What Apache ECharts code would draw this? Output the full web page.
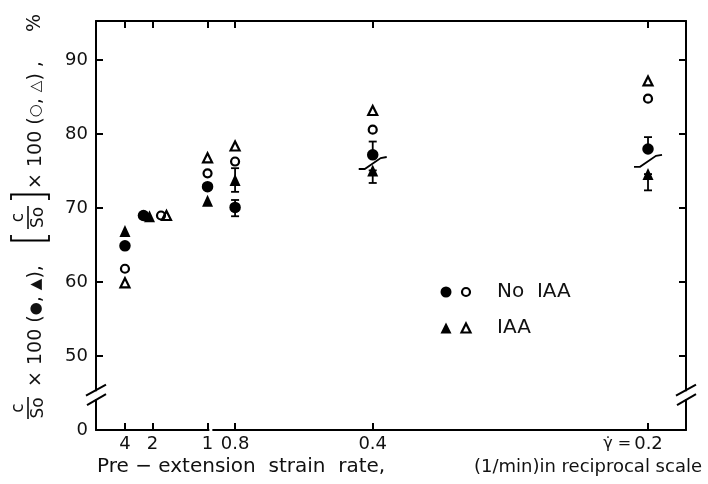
<!DOCTYPE html>
<html><head><meta charset="utf-8">
<script src="https://cdn.jsdelivr.net/npm/echarts@6/dist/echarts.min.js"></script>
<style>html,body{margin:0;padding:0;background:#fff}#c{width:708px;height:484px}</style>
</head><body><div id="c"></div>
<script>
// ---- data ----
const rates = [4, 2, 1, 0.8, 0.4, 0.2];
const rateLabels = ['4', '2', '1', '0.8', '0.4', '0.2'];
const yTicks = [50, 60, 70, 80, 90];
const noIaaFilled = [64.9, 69.0, 72.9, 70.1, 77.2, 78.0];
const iaaFilled   = [66.9, 68.9, 71.0, 73.8, 75.1, 74.6];
const noIaaOpen   = [61.8, 69.0, 74.7, 76.3, 80.6, 84.8];
const iaaOpen     = [59.9, 69.0, 76.8, 78.4, 83.2, 87.2];
const errRates    = [0.8, 0.4, 0.2];
const noIaaErrLow  = [68.9, 77.2, 78.0];
const noIaaErrHigh = [71.1, 79.0, 79.6];
const iaaErrLow    = [72.2, 73.4, 72.4];
const iaaErrHigh   = [75.4, 75.1, 74.6];
const breakRates  = [0.4, 0.2];
const breakValues = [76.1, 76.4];

// ---- layout / style ----
const FONT = 'DejaVu Sans';
const X_MIN = -0.013, X_MAX = 5.345, Y_MIN = 40, Y_MAX = 95.3;
const dodge = { fc: -9, ft: -3, oc: 8.5, ot: 14 }; // pixel dodge at the crowded rate
const recips = rates.map(r => 1 / r);

function pts(vals, dx) {
  return rates.map((r, i) => {
    const d = { value: [1 / r, vals[i]] };
    if (r === 2) d.symbolOffset = [dx, 0];
    return d;
  });
}
function labelFor(v) {
  let best = -1, bd = 1e9;
  recips.forEach((x, i) => { const d = Math.abs(x - v); if (d < bd) { bd = d; best = i; } });
  if (bd > 1e-6) return '';
  if (rates[best] === 0.2) return '{g|γ̇ =}' + rateLabels[best] + '{e|}';
  return rateLabels[best];
}

const chart = echarts.init(document.getElementById('c'), null, { renderer: 'canvas' });
const axisLineStyle = { color: '#000', width: 2 };
const tickStyle = { color: '#000', width: 2 };

const option = {
  animation: false,
  backgroundColor: '#fff',
  textStyle: { fontFamily: FONT },
  grid: { left: 96, right: 22, top: 21, bottom: 54 },
  xAxis: [
    {
      type: 'value', min: X_MIN, max: X_MAX, position: 'bottom',
      axisLine: { onZero: false, lineStyle: axisLineStyle },
      axisTick: { inside: true, length: 7, customValues: recips, lineStyle: tickStyle },
      axisLabel: {
        customValues: recips, formatter: labelFor, fontSize: 18, color: '#111', margin: 5,
        rich: { g: { fontSize: 16, color: '#111', padding: [0, 3, 0, 0] }, e: { width: 30 } }
      },
      splitLine: { show: false }
    },
    {
      type: 'value', min: X_MIN, max: X_MAX, position: 'top',
      axisLine: { onZero: false, lineStyle: axisLineStyle },
      axisTick: { inside: true, length: 7, customValues: recips, lineStyle: tickStyle },
      axisLabel: { show: false }, splitLine: { show: false }
    }
  ],
  yAxis: [
    {
      type: 'value', min: Y_MIN, max: Y_MAX, position: 'left',
      axisLine: { onZero: false, lineStyle: axisLineStyle },
      axisTick: { inside: true, length: 7, customValues: yTicks, lineStyle: tickStyle },
      axisLabel: {
        customValues: [Y_MIN].concat(yTicks),
        formatter: v => (v === Y_MIN ? '0' : String(v)), fontSize: 18, color: '#111', margin: 8
      },
      splitLine: { show: false }
    },
    {
      type: 'value', min: Y_MIN, max: Y_MAX, position: 'right',
      axisLine: { onZero: false, lineStyle: axisLineStyle },
      axisTick: { inside: true, length: 7, customValues: yTicks, lineStyle: tickStyle },
      axisLabel: { show: false }, splitLine: { show: false }
    }
  ],
  series: [
    {
      name: 'No IAA error', type: 'custom', z: 1,
      data: errRates.map((r, i) => [1 / r, noIaaErrLow[i], noIaaErrHigh[i]]),
      encode: { x: 0, y: [1, 2] }, renderItem: errItem
    },
    {
      name: 'IAA error', type: 'custom', z: 1,
      data: errRates.map((r, i) => [1 / r, iaaErrLow[i], iaaErrHigh[i]]),
      encode: { x: 0, y: [1, 2] }, renderItem: errItem
    },
    {
      name: 'No IAA (filled)', type: 'scatter', symbol: 'circle', symbolSize: 11.5, z: 3,
      itemStyle: { color: '#000', opacity: 1 }, data: pts(noIaaFilled, dodge.fc)
    },
    {
      name: 'IAA (filled)', type: 'scatter', symbol: 'triangle', symbolSize: [11, 12], z: 3,
      itemStyle: { color: '#000', opacity: 1 }, data: pts(iaaFilled, dodge.ft)
    },
    {
      name: 'No IAA (open)', type: 'scatter', symbol: 'circle', symbolSize: 8, z: 3,
      itemStyle: { color: 'rgba(255,255,255,0)', borderColor: '#000', borderWidth: 2.2, opacity: 1 },
      data: pts(noIaaOpen, dodge.oc)
    },
    {
      name: 'IAA (open)', type: 'scatter', symbol: 'triangle', symbolSize: [9, 9], z: 3,
      itemStyle: { color: 'rgba(255,255,255,0)', borderColor: '#000', borderWidth: 2.2, opacity: 1 },
      data: pts(iaaOpen, dodge.ot)
    },
    {
      name: 'break marks', type: 'custom', z: 4,
      data: breakRates.map((r, i) => [1 / r, breakValues[i]]),
      encode: { x: 0, y: 1 },
      renderItem: function (params, api) {
        const p = api.coord([api.value(0), api.value(1)]);
        return {
          type: 'polyline',
          shape: { points: [[p[0] - 14, p[1] + 6], [p[0] - 8, p[1] + 6], [p[0] + 8, p[1] - 5], [p[0] + 14, p[1] - 6]] },
          style: { stroke: '#000', lineWidth: 1.8, fill: null }
        };
      }
    }
  ],
  graphic: buildStatic()
};

function errItem(params, api) {
  const x = api.value(0);
  const p1 = api.coord([x, api.value(1)]);
  const p2 = api.coord([x, api.value(2)]);
  const hw = 4;
  const style = { stroke: '#000', lineWidth: 1.8 };
  return {
    type: 'group', children: [
      { type: 'line', shape: { x1: p1[0], y1: p1[1], x2: p2[0], y2: p2[1] }, style },
      { type: 'line', shape: { x1: p1[0] - hw, y1: p1[1], x2: p1[0] + hw, y2: p1[1] }, style },
      { type: 'line', shape: { x1: p2[0] - hw, y1: p2[1], x2: p2[0] + hw, y2: p2[1] }, style }
    ]
  };
}

function buildStatic() {
  const txt = (x, y, text, size, align, rich) => ({
    type: 'text', x, y,
    style: { text, fontSize: size, fontFamily: FONT, fill: '#111', align: align || 'left', verticalAlign: 'middle', rich: rich }
  });
  const ln = (x1, y1, x2, y2, w) => ({ type: 'line', shape: { x1, y1, x2, y2 }, style: { stroke: '#000', lineWidth: w || 1.5 } });
  const pl = (points, w) => ({ type: 'polyline', shape: { points }, style: { stroke: '#000', lineWidth: w || 1.8, fill: null } });
  const sym = { s: { fontSize: 15, fontFamily: FONT, fill: '#111' } };
  // rotated y-axis title; local x = along reading direction (upwards), local y = to the right
  const yTitle = {
    type: 'group', x: 45, y: 425, rotation: Math.PI / 2,
    children: [
      txt(17, -26.5, 'c', 17, 'center'),
      ln(6, -17, 28, -17, 1.5),
      txt(17, -6.5, 'So', 17, 'center'),
      txt(38, -8.5, '× 100 ({s|●}, {s|▲}),', 19, 'left', sym),
      pl([[190, -34], [184.5, -34], [184.5, 4], [190, 4]]),
      txt(207.5, -26.5, 'c', 17, 'center'),
      ln(196, -17, 219, -17, 1.5),
      txt(207.5, -6.5, 'So', 17, 'center'),
      pl([[225, -34], [230.5, -34], [230.5, 4], [225, 4]]),
      txt(236, -8.5, '× 100 ({s|○}, {s|△}) ,', 19, 'left', sym),
      txt(402, -10, '%', 19, 'center')
    ]
  };
  const legend = {
    type: 'group', x: 0, y: 0,
    children: [
      { type: 'circle', shape: { cx: 446, cy: 292, r: 5.5 }, style: { fill: '#000' } },
      { type: 'circle', shape: { cx: 466, cy: 292, r: 4 }, style: { fill: 'none', stroke: '#000', lineWidth: 2.2 } },
      txt(497, 292, 'No  IAA', 20),
      { type: 'polygon', shape: { points: [[446, 322.5], [451.5, 333.5], [440.5, 333.5]] }, style: { fill: '#000' } },
      { type: 'polygon', shape: { points: [[466, 323.5], [470.5, 332.5], [461.5, 332.5]] }, style: { fill: 'none', stroke: '#000', lineWidth: 2.2 } },
      txt(497, 328, 'IAA', 20)
    ]
  };
  const xTitle = {
    type: 'group', children: [
      txt(97, 467, 'Pre − extension  strain  rate,', 20),
      txt(702, 467, '(1/min)in reciprocal scale', 18, 'right')
    ]
  };
  return [yTitle, legend, xTitle];
}

chart.setOption(option);

// axis break decorations, positioned through the axes
function brk(cx, cy) {
  return [
    { type: 'rect', z: 100, shape: { x: cx - 3, y: cy - 4, width: 6, height: 8 }, style: { fill: '#fff' } },
    { type: 'line', z: 101, shape: { x1: cx - 10, y1: cy + 0.5, x2: cx + 10, y2: cy - 10.5 }, style: { stroke: '#000', lineWidth: 2 } },
    { type: 'line', z: 101, shape: { x1: cx - 9, y1: cy + 10, x2: cx + 10, y2: cy - 1 }, style: { stroke: '#000', lineWidth: 2 } }
  ];
}
const pL = chart.convertToPixel({ xAxisIndex: 0, yAxisIndex: 0 }, [X_MIN, 44.7]);
const pR = chart.convertToPixel({ xAxisIndex: 0, yAxisIndex: 0 }, [X_MAX, 44.7]);
const pG = chart.convertToPixel({ xAxisIndex: 0, yAxisIndex: 0 }, [1.03, Y_MIN]);
const extra = brk(pL[0], pL[1]).concat(brk(pR[0], pR[1])).concat([
  { type: 'rect', z: 100, shape: { x: pG[0] - 1.5, y: pG[1] - 3, width: 3, height: 6 }, style: { fill: '#fff' } }
]);
chart.setOption({ graphic: buildStatic().concat(extra) });
</script>
</body></html>
